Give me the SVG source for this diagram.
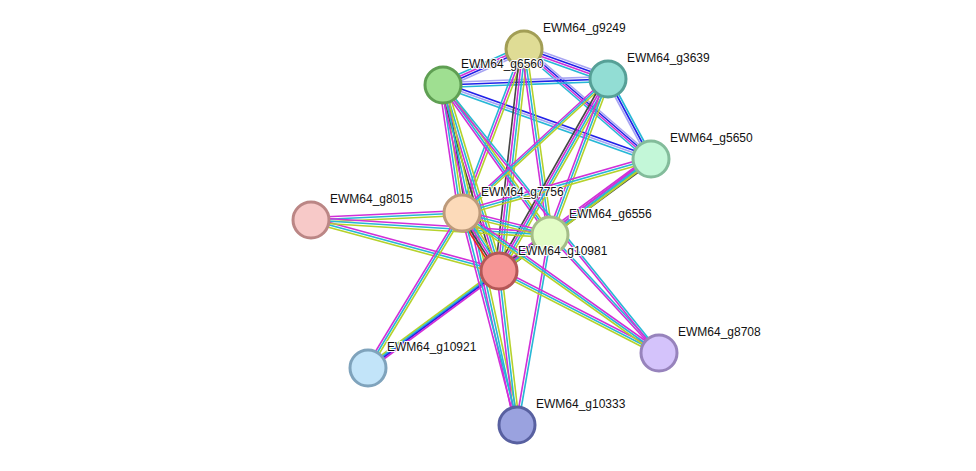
<svg xmlns="http://www.w3.org/2000/svg" xmlns:xlink="http://www.w3.org/1999/xlink" width="976" height="471" viewBox="0 0 976 471">
<style>
.m{stroke:#d12fd8}.c{stroke:#27b7d6}.y{stroke:#b5d22b}.k{stroke:#444}.b{stroke:#2121e8}.p{stroke:#a7a4f2}.r{stroke:#e8241c}
line{stroke-width:1.6;fill:none}
text{font-family:"Liberation Sans",Arial,sans-serif;font-size:12px;fill:#111;paint-order:stroke;stroke:#fff;stroke-width:2px}
circle{stroke-width:3}
</style>
<defs>
<line id="AB" x1="524" y1="49" x2="608" y2="79"/>
<line id="AC" x1="524" y1="49" x2="443" y2="85"/>
<line id="AD" x1="524" y1="49" x2="651" y2="159"/>
<line id="CB" x1="443" y1="85" x2="608" y2="79"/>
<line id="CD" x1="443" y1="85" x2="651" y2="159"/>
<line id="BD" x1="608" y1="79" x2="651" y2="159"/>
<line id="AF" x1="524" y1="49" x2="462" y2="213"/>
<line id="AH" x1="524" y1="49" x2="499" y2="271"/>
<line id="AG" x1="524" y1="49" x2="550" y2="235"/>
<line id="CF" x1="443" y1="85" x2="462" y2="213"/>
<line id="CH" x1="443" y1="85" x2="499" y2="271"/>
<line id="CG" x1="443" y1="85" x2="550" y2="235"/>
<line id="CK" x1="443" y1="85" x2="517" y2="425"/>
<line id="BF" x1="608" y1="79" x2="462" y2="213"/>
<line id="BH" x1="608" y1="79" x2="499" y2="271"/>
<line id="BG" x1="608" y1="79" x2="550" y2="235"/>
<line id="DH" x1="651" y1="159" x2="499" y2="271"/>
<line id="DG" x1="651" y1="159" x2="550" y2="235"/>
<line id="DF" x1="651" y1="159" x2="462" y2="213"/>
<line id="EF" x1="311" y1="220" x2="462" y2="213"/>
<line id="EH" x1="311" y1="220" x2="499" y2="271"/>
<line id="EG" x1="311" y1="220" x2="550" y2="235"/>
<line id="FH" x1="462" y1="213" x2="499" y2="271"/>
<line id="FG" x1="462" y1="213" x2="550" y2="235"/>
<line id="GH" x1="550" y1="235" x2="499" y2="271"/>
<line id="HJ" x1="499" y1="271" x2="368" y2="368"/>
<line id="FJ" x1="462" y1="213" x2="368" y2="368"/>
<line id="HK" x1="499" y1="271" x2="517" y2="425"/>
<line id="FK" x1="462" y1="213" x2="517" y2="425"/>
<line id="GK" x1="550" y1="235" x2="517" y2="425"/>
<line id="HI" x1="499" y1="271" x2="659" y2="353"/>
<line id="FI" x1="462" y1="213" x2="659" y2="353"/>
<line id="GI" x1="550" y1="235" x2="659" y2="353"/>
<line id="CI" x1="443" y1="85" x2="659" y2="353"/>
</defs>
<g id="edges">
<use href="#AB" class="p" transform="translate(0,-3.75)"/><use href="#AB" class="b" transform="translate(0,-1.25)"/><use href="#AB" class="m" transform="translate(0,1.25)"/><use href="#AB" class="c" transform="translate(0,3.75)"/>
<use href="#AC" class="c" transform="translate(0,-3.75)"/><use href="#AC" class="m" transform="translate(0,-1.25)"/><use href="#AC" class="b" transform="translate(0,1.25)"/><use href="#AC" class="p" transform="translate(0,3.75)"/>
<use href="#AD" class="p" transform="translate(0,-3.75)"/><use href="#AD" class="b" transform="translate(0,-1.25)"/><use href="#AD" class="m" transform="translate(0,1.25)"/><use href="#AD" class="c" transform="translate(0,3.75)"/>
<use href="#CB" class="p" transform="translate(0,-2.5)"/><use href="#CB" class="b" transform="translate(0,0)"/><use href="#CB" class="c" transform="translate(0,2.5)"/>
<use href="#CD" class="b" transform="translate(0,-2.5)"/><use href="#CD" class="p" transform="translate(0,0)"/><use href="#CD" class="c" transform="translate(0,2.5)"/>
<use href="#BD" class="p" transform="translate(-2.5,0)"/><use href="#BD" class="b" transform="translate(0,0)"/><use href="#BD" class="c" transform="translate(2.5,0)"/>
<use href="#AF" class="c" transform="translate(-2.5,0)"/><use href="#AF" class="m" transform="translate(0,0)"/><use href="#AF" class="y" transform="translate(2.5,0)"/>
<use href="#AH" class="k" transform="translate(-3.75,0)"/><use href="#AH" class="m" transform="translate(-1.25,0)"/><use href="#AH" class="c" transform="translate(1.25,0)"/><use href="#AH" class="y" transform="translate(3.75,0)"/>
<use href="#AG" class="m" transform="translate(-2.5,0)"/><use href="#AG" class="c" transform="translate(0,0)"/><use href="#AG" class="y" transform="translate(2.5,0)"/>
<use href="#CF" class="m" transform="translate(-3.75,0)"/><use href="#CF" class="c" transform="translate(-1.25,0)"/><use href="#CF" class="y" transform="translate(1.25,0)"/><use href="#CF" class="k" transform="translate(3.75,0)"/>
<use href="#CH" class="k" transform="translate(-3.75,0)"/><use href="#CH" class="m" transform="translate(-1.25,0)"/><use href="#CH" class="c" transform="translate(1.25,0)"/><use href="#CH" class="y" transform="translate(3.75,0)"/>
<use href="#CG" class="m" transform="translate(-2.5,0)"/><use href="#CG" class="c" transform="translate(0,0)"/><use href="#CG" class="y" transform="translate(2.5,0)"/>
<use href="#CK" class="m" transform="translate(-2.5,0)"/><use href="#CK" class="c" transform="translate(0,0)"/><use href="#CK" class="y" transform="translate(2.5,0)"/>
<use href="#BF" class="m" transform="translate(-2.5,0)"/><use href="#BF" class="c" transform="translate(0,0)"/><use href="#BF" class="y" transform="translate(2.5,0)"/>
<use href="#BH" class="k" transform="translate(-3.75,0)"/><use href="#BH" class="m" transform="translate(-1.25,0)"/><use href="#BH" class="c" transform="translate(1.25,0)"/><use href="#BH" class="y" transform="translate(3.75,0)"/>
<use href="#BG" class="m" transform="translate(-2.5,0)"/><use href="#BG" class="c" transform="translate(0,0)"/><use href="#BG" class="y" transform="translate(2.5,0)"/>
<use href="#DH" class="m" transform="translate(0,-3.75)"/><use href="#DH" class="c" transform="translate(0,-1.25)"/><use href="#DH" class="y" transform="translate(0,1.25)"/><use href="#DH" class="k" transform="translate(0,3.75)"/>
<use href="#DG" class="m" transform="translate(0,-2.5)"/><use href="#DG" class="c" transform="translate(0,0)"/><use href="#DG" class="y" transform="translate(0,2.5)"/>
<use href="#DF" class="m" transform="translate(0,-2.5)"/><use href="#DF" class="c" transform="translate(0,0)"/><use href="#DF" class="y" transform="translate(0,2.5)"/>
<use href="#EF" class="m" transform="translate(0,-2.5)"/><use href="#EF" class="c" transform="translate(0,0)"/><use href="#EF" class="y" transform="translate(0,2.5)"/>
<use href="#EH" class="m" transform="translate(0,-2.5)"/><use href="#EH" class="c" transform="translate(0,0)"/><use href="#EH" class="y" transform="translate(0,2.5)"/>
<use href="#EG" class="m" transform="translate(0,-2.5)"/><use href="#EG" class="c" transform="translate(0,0)"/><use href="#EG" class="y" transform="translate(0,2.5)"/>
<use href="#FH" class="r" transform="translate(-5,0)"/><use href="#FH" class="k" transform="translate(-2.5,0)"/><use href="#FH" class="m" transform="translate(0,0)"/><use href="#FH" class="c" transform="translate(2.5,0)"/><use href="#FH" class="y" transform="translate(5,0)"/>
<use href="#FG" class="m" transform="translate(0,-2.5)"/><use href="#FG" class="c" transform="translate(0,0)"/><use href="#FG" class="y" transform="translate(0,2.5)"/>
<use href="#GH" class="k" transform="translate(-3.75,0)"/><use href="#GH" class="m" transform="translate(-1.25,0)"/><use href="#GH" class="c" transform="translate(1.25,0)"/><use href="#GH" class="y" transform="translate(3.75,0)"/>
<use href="#HJ" class="y" transform="translate(-3.75,0)"/><use href="#HJ" class="c" transform="translate(-1.25,0)"/><use href="#HJ" class="b" transform="translate(1.25,0)"/><use href="#HJ" class="m" transform="translate(3.75,0)"/>
<use href="#FJ" class="m" transform="translate(-2.5,0)"/><use href="#FJ" class="c" transform="translate(0,0)"/><use href="#FJ" class="y" transform="translate(2.5,0)"/>
<use href="#HK" class="m" transform="translate(-2.5,0)"/><use href="#HK" class="c" transform="translate(0,0)"/><use href="#HK" class="y" transform="translate(2.5,0)"/>
<use href="#FK" class="m" transform="translate(-1.25,0)"/><use href="#FK" class="c" transform="translate(1.25,0)"/>
<use href="#GK" class="m" transform="translate(-1.25,0)"/><use href="#GK" class="c" transform="translate(1.25,0)"/>
<use href="#HI" class="m" transform="translate(0,-2.5)"/><use href="#HI" class="c" transform="translate(0,0)"/><use href="#HI" class="y" transform="translate(0,2.5)"/>
<use href="#FI" class="m" transform="translate(0,-2.5)"/><use href="#FI" class="c" transform="translate(0,0)"/><use href="#FI" class="y" transform="translate(0,2.5)"/>
<use href="#GI" class="m" transform="translate(-1.25,0)"/><use href="#GI" class="c" transform="translate(1.25,0)"/>
<use href="#CI" class="m" transform="translate(-1.25,0)"/><use href="#CI" class="c" transform="translate(1.25,0)"/>
</g>
<g id="n9249"><circle cx="524" cy="49" r="18" fill="#dfdc95" stroke="#a29e55"/><text x="543" y="32">EWM64_g9249</text></g>
<g id="n3639"><circle cx="608" cy="79" r="18" fill="#92ddd4" stroke="#56a097"/><text x="627" y="62">EWM64_g3639</text></g>
<g id="n6560"><circle cx="443" cy="85" r="18" fill="#9fdf91" stroke="#5f9f53"/><text x="461" y="68">EWM64_g6560</text></g>
<g id="n5650"><circle cx="651" cy="159" r="18" fill="#c3f7d8" stroke="#83bc9b"/><text x="670" y="142">EWM64_g5650</text></g>
<g id="n8015"><circle cx="311" cy="220" r="18" fill="#f7c9c8" stroke="#bb8685"/><text x="330" y="203">EWM64_g8015</text></g>
<g id="n7756"><circle cx="462" cy="213" r="18" fill="#fcdab9" stroke="#bd9a7a"/><text x="481" y="196">EWM64_g7756</text></g>
<g id="n6556"><circle cx="550" cy="235" r="18" fill="#e2fcc6" stroke="#a4bd88"/><text x="569" y="218">EWM64_g6556</text></g>
<g id="n10981"><circle cx="499" cy="271" r="18" fill="#f69595" stroke="#b55757"/><text x="518" y="255">EWM64_g10981</text></g>
<g id="n8708"><circle cx="659" cy="353" r="18" fill="#d4c3fb" stroke="#9783bc"/><text x="678" y="336">EWM64_g8708</text></g>
<g id="n10921"><circle cx="368" cy="368" r="18" fill="#c2e4f9" stroke="#7fa3bc"/><text x="387" y="351">EWM64_g10921</text></g>
<g id="n10333"><circle cx="517" cy="425" r="18" fill="#9aa2df" stroke="#5860a0"/><text x="536" y="408">EWM64_g10333</text></g>
</svg>
